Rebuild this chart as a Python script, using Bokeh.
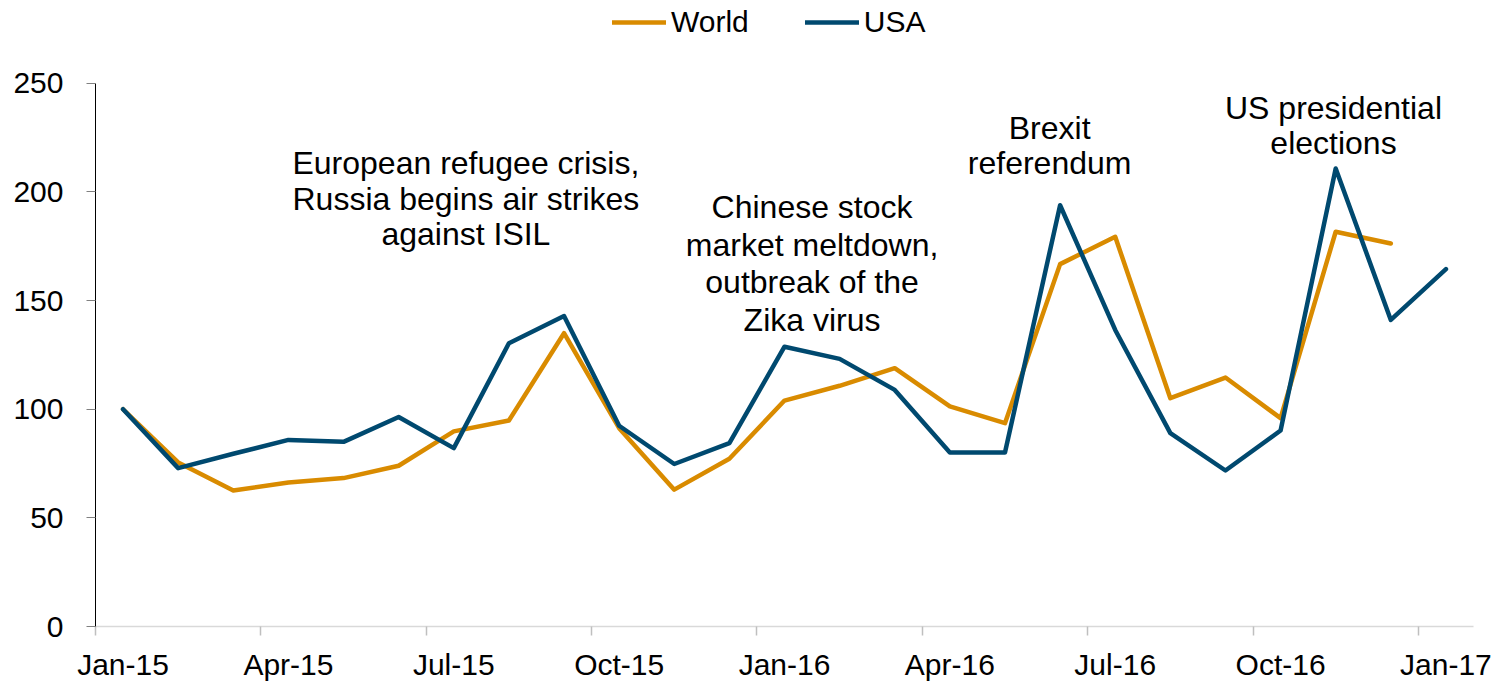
from bokeh.plotting import figure
from bokeh.models import FixedTicker, Range1d, Label, Legend, LegendItem, ColumnDataSource
from bokeh.embed import file_html
from bokeh.resources import INLINE

# ---------------- data ----------------
months = ["Jan-15", "Feb-15", "Mar-15", "Apr-15", "May-15", "Jun-15", "Jul-15", "Aug-15",
          "Sep-15", "Oct-15", "Nov-15", "Dec-15", "Jan-16", "Feb-16", "Mar-16", "Apr-16",
          "May-16", "Jun-16", "Jul-16", "Aug-16", "Sep-16", "Oct-16", "Nov-16", "Dec-16",
          "Jan-17"]
world = [100, 75.5, 62.6, 66.3, 68.3, 74.0, 89.8, 94.8, 135.0, 91.3, 63.0, 77.2,
         104.0, 110.8, 118.9, 101.3, 93.6, 166.8, 179.4, 105.1, 114.6, 95.9, 181.7, 176.3]
usa = [100, 72.9, 79.5, 85.9, 85.0, 96.4, 82.1, 130.4, 142.9, 92.4, 74.8, 84.4,
       128.8, 123.2, 108.9, 80.1, 80.1, 193.9, 136.5, 89.0, 71.8, 90.2, 210.8, 141.1, 164.5]
y_ticks = [0, 50, 100, 150, 200, 250]

# (lines, x centre, y of first baseline, line spacing in px)
annotations = [
    (["European refugee crisis,", "Russia begins air strikes", "against ISIL"], 6.22, 213.2, 35.5),
    (["Chinese stock", "market meltdown,", "outbreak of the", "Zika virus"], 12.5, 193.0, 37.5),
    (["Brexit", "referendum"], 16.81, 229.5, 35.5),
    (["US presidential", "elections"], 21.96, 238.8, 35.5),
]

WORLD_C = "#D98B00"
USA_C = "#00496F"
FONT = "Liberation Sans"

W, H = 1499, 683
BOTTOM = 56          # space below the frame (x axis)
PX_PER_UNIT = 2.176  # vertical scale of the reference
y_top = (H - BOTTOM) / PX_PER_UNIT   # frame reaches the top so the legend fits inside

p = figure(width=W, height=H, output_backend="svg", toolbar_location=None,
           x_range=Range1d(-0.5, 24.5), y_range=Range1d(0, y_top),
           min_border_left=95, min_border_right=26, min_border_top=0, min_border_bottom=BOTTOM)
p.grid.visible = False
p.outline_line_color = None
p.background_fill_color = "white"

ws = ColumnDataSource(dict(x=list(range(len(world))), y=world))
us = ColumnDataSource(dict(x=list(range(len(usa))), y=usa))
r_w = p.line("x", "y", source=ws, line_color=WORLD_C, line_width=4.5, line_join="round", line_cap="round")
r_u = p.line("x", "y", source=us, line_color=USA_C, line_width=4.5, line_join="round", line_cap="round")

# x axis
label_idx = list(range(0, len(months), 3))
p.xaxis.ticker = FixedTicker(ticks=label_idx, minor_ticks=[i - 0.5 for i in label_idx])
p.xaxis.major_label_overrides = {i: months[i] for i in label_idx}
p.xaxis.major_tick_line_color = None
p.xaxis.major_tick_out = 9
p.xaxis.major_tick_in = 0
p.xaxis.minor_tick_line_color = "#BFBFBF"
p.xaxis.minor_tick_line_width = 1.5
p.xaxis.minor_tick_out = 9
p.xaxis.minor_tick_in = 0
p.xaxis.axis_line_color = "#D9D9D9"
p.xaxis.axis_line_width = 1.5
p.xaxis.major_label_standoff = 12
p.xaxis.major_label_text_font = FONT
p.xaxis.major_label_text_font_size = "30px"
p.xaxis.major_label_text_color = "black"

# y axis (line limited to 0..250)
p.yaxis.ticker = FixedTicker(ticks=y_ticks)
p.yaxis.bounds = (y_ticks[0], y_ticks[-1])
p.yaxis.minor_tick_line_color = None
p.yaxis.major_tick_line_color = "#808080"
p.yaxis.major_tick_out = 9
p.yaxis.major_tick_in = 0
p.yaxis.axis_line_color = "black"
p.yaxis.axis_line_width = 1
p.yaxis.major_label_standoff = 23
p.yaxis.major_label_text_font = FONT
p.yaxis.major_label_text_font_size = "30px"
p.yaxis.major_label_text_color = "black"

# annotations
for lines, x, y0, spacing in annotations:
    step = spacing / PX_PER_UNIT
    for k, t in enumerate(lines):
        p.add_layout(Label(x=x, y=y0 - k * step, text=t, text_align="center",
                           text_baseline="alphabetic", text_font=FONT,
                           text_font_size="32px", text_color="black"))

legend = Legend(items=[LegendItem(label="World", renderers=[r_w]),
                       LegendItem(label="USA", renderers=[r_u])],
                orientation="horizontal", location=(517, 587),
                label_text_font=FONT, label_text_font_size="30px",
                label_text_color="black",
                glyph_width=54, label_standoff=5, spacing=56,
                padding=0, margin=0, border_line_color=None,
                background_fill_alpha=0)
p.add_layout(legend)

open("out.html", "w").write(file_html(p, INLINE))
